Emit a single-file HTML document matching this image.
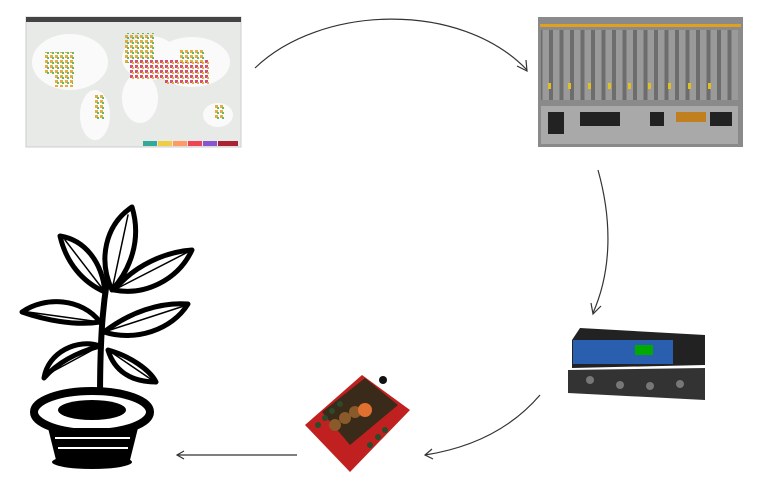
<!DOCTYPE html>
<html><head><style>body{margin:0;background:#fff}svg{display:block}</style></head><body>
<svg width="768" height="485" viewBox="0 0 768 485" xmlns="http://www.w3.org/2000/svg">
<defs>
<pattern id="dots" width="5" height="5" patternUnits="userSpaceOnUse"><rect width="3" height="3" fill="#e0a020"/><rect x="2" y="2" width="2" height="2" fill="#4caf50"/></pattern>
<pattern id="dots2" width="5" height="5" patternUnits="userSpaceOnUse"><rect width="3" height="3" fill="#d03060"/><rect x="2" y="2" width="2" height="2" fill="#e0a020"/></pattern>
<pattern id="strips" width="10.5" height="10" patternUnits="userSpaceOnUse"><rect width="10.5" height="10" fill="#9a9a9a"/><rect x="3" width="4" height="10" fill="#6d6d6d"/></pattern>
</defs>
<!-- map -->
<rect x="26" y="17" width="215" height="130" fill="#e8eae8" stroke="#ccc"/>
<rect x="26" y="17" width="215" height="5" fill="#444"/>
<g fill="#fafafa"><ellipse cx="70" cy="62" rx="38" ry="28"/><ellipse cx="95" cy="115" rx="15" ry="25"/><ellipse cx="150" cy="58" rx="28" ry="22"/><ellipse cx="140" cy="98" rx="18" ry="25"/><ellipse cx="192" cy="62" rx="38" ry="25"/><ellipse cx="218" cy="115" rx="15" ry="12"/></g>
<g opacity=".85"><rect x="45" y="52" width="30" height="22" fill="url(#dots)"/><rect x="55" y="72" width="18" height="15" fill="url(#dots)"/><rect x="124" y="33" width="30" height="30" fill="url(#dots)"/><rect x="130" y="60" width="35" height="20" fill="url(#dots2)"/><rect x="165" y="60" width="45" height="25" fill="url(#dots2)"/><rect x="180" y="50" width="25" height="12" fill="url(#dots)"/><rect x="95" y="95" width="10" height="25" fill="url(#dots)"/><rect x="215" y="105" width="10" height="15" fill="url(#dots)"/></g>
<g><rect x="143" y="141" width="14" height="5" fill="#3a9"/><rect x="158" y="141" width="14" height="5" fill="#ec4"/><rect x="173" y="141" width="14" height="5" fill="#f96"/><rect x="188" y="141" width="14" height="5" fill="#e45"/><rect x="203" y="141" width="14" height="5" fill="#85c"/><rect x="218" y="141" width="20" height="5" fill="#a23"/></g>
<!-- mixer -->
<rect x="538" y="17" width="205" height="130" fill="#8a8a8a"/>
<rect x="540" y="24" width="201" height="3" fill="#e0a020"/>
<rect x="541" y="30" width="197" height="70" fill="url(#strips)"/>
<g fill="#e0c020"><rect x="548" y="83" width="3" height="6"/><rect x="568" y="83" width="3" height="6"/><rect x="588" y="83" width="3" height="6"/><rect x="608" y="83" width="3" height="6"/><rect x="628" y="83" width="3" height="6"/><rect x="648" y="83" width="3" height="6"/><rect x="668" y="83" width="3" height="6"/><rect x="688" y="83" width="3" height="6"/><rect x="708" y="83" width="3" height="6"/></g>
<rect x="541" y="106" width="197" height="38" fill="#a9a9a9"/>
<g fill="#222"><rect x="548" y="112" width="16" height="22"/><rect x="580" y="112" width="40" height="14"/><rect x="650" y="112" width="14" height="14"/><rect x="676" y="112" width="30" height="10" fill="#c08020"/><rect x="710" y="112" width="22" height="14"/></g>
<!-- interface -->
<polygon points="572,340 580,328 705,335 705,365 572,368" fill="#222"/>
<rect x="573" y="340" width="100" height="24" fill="#2a5fb0"/>
<rect x="635" y="345" width="18" height="10" fill="#0a0"/>
<polygon points="568,370 705,368 705,400 568,393" fill="#333"/>
<g fill="#777"><circle cx="590" cy="380" r="4"/><circle cx="620" cy="385" r="4"/><circle cx="650" cy="386" r="4"/><circle cx="680" cy="384" r="4"/></g>
<!-- amp board -->
<polygon points="305,425 362,375 410,410 350,472" fill="#c02020"/>
<polygon points="322,412 365,378 398,405 350,445" fill="#3a2a1a"/>
<g fill="#2a4a2a"><circle cx="318" cy="425" r="3"/><circle cx="325" cy="418" r="3"/><circle cx="332" cy="411" r="3"/><circle cx="340" cy="404" r="3"/><circle cx="385" cy="430" r="3"/><circle cx="378" cy="437" r="3"/><circle cx="370" cy="445" r="3"/></g>
<g fill="#8a5a2a"><circle cx="335" cy="425" r="6"/><circle cx="345" cy="418" r="6"/><circle cx="355" cy="412" r="6"/></g>
<circle cx="365" cy="410" r="7" fill="#e07030"/>
<circle cx="383" cy="380" r="4" fill="#111"/>
<!-- plant -->
<g stroke="#000" stroke-linecap="round" stroke-linejoin="round">
<path d="M100 400 C100 340 102 290 116 240" stroke-width="6" fill="none"/>
<g stroke-width="5" fill="#fff">
<path d="M112 290 C98 260 105 225 132 207 C142 240 130 270 112 290Z"/>
<path d="M105 292 C82 282 66 262 60 236 C85 240 102 262 105 292Z"/>
<path d="M114 290 C135 265 165 252 192 250 C178 280 145 296 114 290Z"/>
<path d="M100 322 C75 326 45 320 22 312 C45 296 82 298 100 322Z"/>
<path d="M104 332 C130 312 160 302 188 304 C172 330 135 342 104 332Z"/>
<path d="M100 346 C78 352 58 362 44 378 C48 352 78 338 100 346Z"/>
<path d="M108 350 C130 356 150 370 156 382 C130 382 114 370 108 350Z"/>
</g>
<g stroke-width="1.5" fill="none"><path d="M112 290 L128 215"/><path d="M105 292 L65 240"/><path d="M114 290 L188 252"/><path d="M100 322 L28 312"/><path d="M104 332 L184 306"/><path d="M100 346 L48 374"/><path d="M108 350 L152 380"/></g>
</g>
<ellipse cx="92" cy="412" rx="58" ry="21" fill="#fff" stroke="#000" stroke-width="8"/>
<ellipse cx="92" cy="410" rx="34" ry="10" fill="#000"/>
<path d="M48 428 L56 460 L130 460 L138 428Z" fill="#000"/>
<ellipse cx="92" cy="462" rx="40" ry="7" fill="#000"/>
<path d="M55 438 L130 438 M58 448 L128 448" stroke="#fff" stroke-width="2"/>
<!-- connectors -->
<g fill="none" stroke="#333" stroke-width="1.2">
<path d="M255 68 C320 5 460 0 527 70"/><path d="M517 66 L527 71 L526 60"/>
<path d="M598 170 C612 220 612 270 593 313"/><path d="M591 303 L593 314 L601 306"/>
<path d="M540 395 C510 430 470 448 425 455"/><path d="M432 449 L425 455 L433 459"/>
<path d="M297 455 L177 455"/><path d="M184 451 L177 455 L184 459"/>
</g>
</svg>
</body></html>
